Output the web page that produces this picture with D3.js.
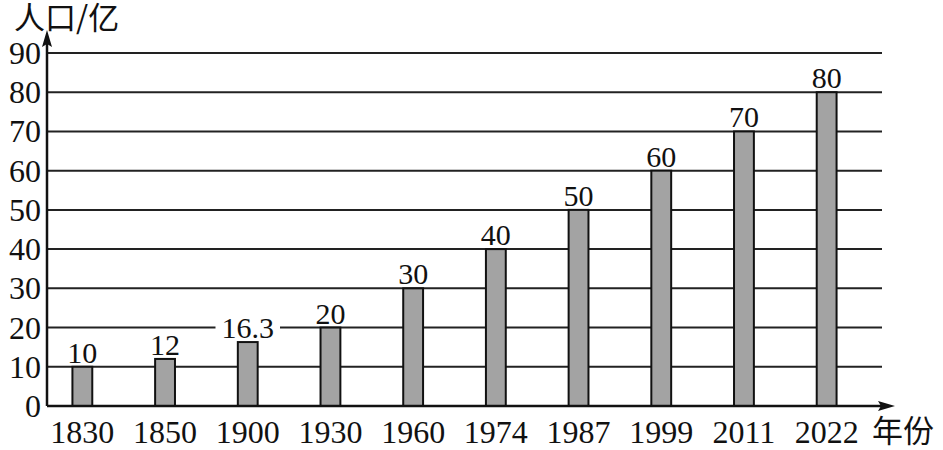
<!DOCTYPE html>
<html>
<head>
<meta charset="utf-8">
<script src="https://cdn.jsdelivr.net/npm/d3@7"></script>
<style>
  body { margin: 0; background: #fff; }
  svg { display: block; }
  .num { font-family: "Liberation Serif", "DejaVu Serif", serif; font-size: 32px; fill: #111; }
  .val { font-family: "Liberation Serif", "DejaVu Serif", serif; font-size: 30px; fill: #111; }
  .cjk { font-family: "Noto Sans CJK SC", sans-serif; font-size: 31px; fill: #111; }
</style>
</head>
<body>
<div id="chart"></div>
<script>
// data
var years = ["1830", "1850", "1900", "1930", "1960", "1974", "1987", "1999", "2011", "2022"];
var population = [10, 12, 16.3, 20, 30, 40, 50, 60, 70, 80];
var yTicks = [0, 10, 20, 30, 40, 50, 60, 70, 80, 90];

var W = 943, H = 450;
var svg = d3.select("#chart").append("svg").attr("width", W).attr("height", H);

var x0 = 47, y0 = 406;
var y = d3.scaleLinear().domain([0, 90]).range([y0, 53]);
var x = d3.scaleBand().domain(years).range([41, 868]).paddingInner(0.76).paddingOuter(0.38);

// gridlines
svg.selectAll("line.grid").data(yTicks.slice(1)).enter().append("line")
  .attr("x1", x0).attr("x2", 882)
  .attr("y1", function(d) { return y(d); }).attr("y2", function(d) { return y(d); })
  .attr("stroke", "#222").attr("stroke-width", 2);

// tick labels
svg.selectAll("text.ytick").data(yTicks).enter().append("text")
  .attr("class", "num")
  .attr("x", 41).attr("y", function(d) { return y(d) + 11; })
  .attr("text-anchor", "end")
  .text(function(d) { return d; });

// bars
svg.selectAll("rect.bar").data(population).enter().append("rect")
  .attr("x", function(d, i) { return x(years[i]); })
  .attr("width", x.bandwidth())
  .attr("y", function(d) { return y(d); })
  .attr("height", function(d) { return y0 - y(d); })
  .attr("fill", "#a3a3a3").attr("stroke", "#111").attr("stroke-width", 2);

// value labels, white box behind the digits so a gridline breaks around them
var lab = svg.selectAll("g.val").data(population).enter().append("g")
  .attr("transform", function(d, i) { return "translate(" + (x(years[i]) + x.bandwidth() / 2) + "," + (y(d) - 4) + ")"; });
lab.append("text").attr("class", "val").attr("text-anchor", "middle")
  .text(function(d) { return d; })
  .each(function() {
    var b = this.getBBox();
    d3.select(this.parentNode).insert("rect", "text")
      .attr("x", b.x - 6).attr("y", -22).attr("width", b.width + 12).attr("height", 20)
      .attr("fill", "#fff");
  });

// x labels
svg.selectAll("text.xtick").data(years).enter().append("text")
  .attr("class", "num")
  .attr("x", function(d) { return x(d) + x.bandwidth() / 2; })
  .attr("y", 443)
  .attr("text-anchor", "middle")
  .text(function(d) { return d; });

// axes with arrows
svg.append("line").attr("x1", x0).attr("x2", 885).attr("y1", y0).attr("y2", y0)
  .attr("stroke", "#111").attr("stroke-width", 2.5);
svg.append("path").attr("d", "M895," + y0 + "L878," + (y0 - 5) + "L881," + y0 + "L878," + (y0 + 5) + "Z").attr("fill", "#111");
svg.append("line").attr("x1", x0).attr("x2", x0).attr("y1", y0).attr("y2", 40)
  .attr("stroke", "#111").attr("stroke-width", 2.5);
svg.append("path").attr("d", "M" + x0 + ",30L" + (x0 - 5) + ",47L" + x0 + ",44L" + (x0 + 5) + ",47Z").attr("fill", "#111");

svg.append("text").attr("class", "cjk").attr("x", 14).attr("y", 29).text("人口/亿");
svg.append("text").attr("class", "cjk").attr("x", 872).attr("y", 442).text("年份");
</script>
</body>
</html>
